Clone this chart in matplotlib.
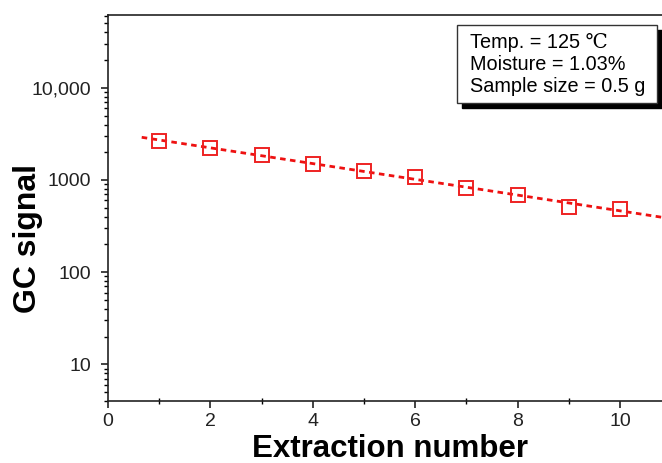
import matplotlib
matplotlib.use("Agg")
import matplotlib.pyplot as plt
import numpy as np
from matplotlib.patches import Rectangle
from matplotlib.ticker import FuncFormatter, FixedLocator, LogLocator

extraction = [1, 2, 3, 4, 5, 6, 7, 8, 9, 10]
gc_signal = [2650, 2220, 1870, 1490, 1260, 1080, 825, 685, 515, 485]
info_lines = ["Temp. = 125 \u2103", "Moisture = 1.03%", "Sample size = 0.5 g"]

plt.rcParams["font.family"] = ["Liberation Sans", "DejaVu Sans"]

fig = plt.figure(figsize=(6.62, 4.63), dpi=100)
ax = fig.add_axes([0.163, 0.134, 0.837, 0.834])

# exponential fit (straight on log axis)
k, b = np.polyfit(extraction, np.log10(gc_signal), 1)
fx = np.array([0.66, 10.82])
ax.plot(fx, 10 ** (k * fx + b), color="#ee1111", linestyle=(0, (2, 1.6)),
        linewidth=2.0, zorder=2)
ax.plot(extraction, gc_signal, linestyle="none", marker="s", markersize=10,
        markerfacecolor="none", markeredgecolor="#ee2222", markeredgewidth=1.4,
        zorder=3)

ax.set_yscale("log")
ax.set_xlim(0, 10.82)
ax.set_ylim(4, 62000)
ax.yaxis.set_major_locator(FixedLocator([10, 100, 1000, 10000]))
ax.yaxis.set_minor_locator(LogLocator(base=10, subs=np.arange(2, 10)))
ax.yaxis.set_major_formatter(FuncFormatter(
    lambda v, p: "{:,}".format(int(v)) if v >= 10000 else "%d" % v))
ax.yaxis.set_minor_formatter(FuncFormatter(lambda v, p: ""))
ax.set_xticks([0, 2, 4, 6, 8, 10])
ax.set_xticks([1, 3, 5, 7, 9], minor=True)

ax.spines["right"].set_visible(False)
for s in ["left", "bottom", "top"]:
    ax.spines[s].set_linewidth(1.2)
    ax.spines[s].set_color("#222222")
ax.tick_params(which="major", direction="out", length=5, width=1.2,
               labelsize=14, colors="#222222", pad=4)
ax.tick_params(axis="y", which="major", pad=7)
ax.tick_params(axis="y", which="minor", direction="out", length=3, width=1.0)
ax.tick_params(axis="x", which="minor", direction="inout", length=5, width=1.0)
ax.tick_params(top=False, right=False)

ax.set_xlabel("Extraction number", fontsize=22.5, fontweight="bold")
ax.set_ylabel("GC signal", fontsize=23, fontweight="bold")
ax.xaxis.set_label_coords(0.509, -0.086)
ax.yaxis.set_label_coords(-0.118, 0.422)

# info box with drop shadow
W, H = 662.0, 463.0
x0, y0, bw, bh = 457, 25, 200, 78
fig.add_artist(Rectangle(((x0 + 5) / W, 1 - (y0 + bh + 5) / H), bw / W, bh / H,
                         transform=fig.transFigure, facecolor="black",
                         edgecolor="black", zorder=5))
fig.add_artist(Rectangle((x0 / W, 1 - (y0 + bh) / H), bw / W, bh / H,
                         transform=fig.transFigure, facecolor="white",
                         edgecolor="#333333", linewidth=1.0, zorder=6))
for i, line in enumerate(info_lines):
    fig.text(470 / W, 1 - (43 + 22 * i) / H, line, fontsize=14.3,
             va="center", ha="left", zorder=7,
             family=["Liberation Sans", "DejaVu Serif"])

fig.savefig("out.png", dpi=100)
